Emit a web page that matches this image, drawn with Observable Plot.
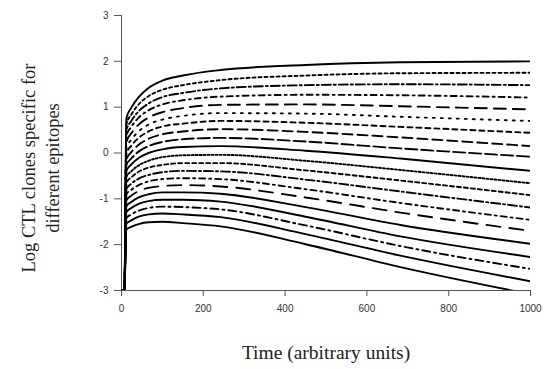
<!DOCTYPE html>
<html><head><meta charset="utf-8">
<script src="https://cdn.jsdelivr.net/npm/d3@7"></script>
<script src="https://cdn.jsdelivr.net/npm/@observablehq/plot@0.6"></script>
<style>
html,body{margin:0;padding:0;background:#fff;}
#chart{width:544px;height:369px;}
</style>
</head><body><div id="chart"></div>
<script>
// Time points (arbitrary units)
const times = [0, 7, 12, 24, 42, 66, 100, 150, 242, 450, 682, 1000];
// Log CTL clone values per epitope (top to bottom)
const epi1  = [-3, -3,  0.76,  0.99,  1.22,  1.42,  1.58,  1.69,  1.81,  1.92,  1.98,  2.00];
const epi2  = [-3, -3,  0.63,  0.84,  1.06,  1.24,  1.38,  1.48,  1.59,  1.69,  1.74,  1.75];
const epi3  = [-3, -3,  0.50,  0.70,  0.91,  1.08,  1.22,  1.31,  1.41,  1.48,  1.50,  1.48];
const epi4  = [-3, -3,  0.38,  0.57,  0.77,  0.93,  1.06,  1.15,  1.23,  1.27,  1.26,  1.21];
const epi5  = [-3, -3,  0.25,  0.43,  0.62,  0.77,  0.89,  0.98,  1.05,  1.06,  1.02,  0.95];
const epi6  = [-3, -3,  0.12,  0.29,  0.47,  0.62,  0.73,  0.81,  0.87,  0.86,  0.79,  0.70];
const epi7  = [-3, -3, -0.01,  0.16,  0.33,  0.47,  0.58,  0.64,  0.70,  0.66,  0.57,  0.44];
const epi8  = [-3, -3, -0.14,  0.02,  0.18,  0.31,  0.41,  0.47,  0.52,  0.46,  0.34,  0.15];
const epi9  = [-3, -3, -0.26, -0.12,  0.03,  0.15,  0.24,  0.30,  0.33,  0.25,  0.10, -0.08];
const epi10 = [-3, -3, -0.39, -0.25, -0.11,  0.00,  0.08,  0.13,  0.15,  0.05, -0.12, -0.39];
const epi11 = [-3, -3, -0.52, -0.40, -0.27, -0.17, -0.09, -0.05, -0.04, -0.17, -0.37, -0.66];
const epi12 = [-3, -3, -0.65, -0.53, -0.41, -0.32, -0.26, -0.22, -0.22, -0.38, -0.60, -0.92];
const epi13 = [-3, -3, -0.78, -0.67, -0.56, -0.48, -0.42, -0.39, -0.40, -0.58, -0.84, -1.19];
const epi14 = [-3, -3, -0.90, -0.80, -0.70, -0.62, -0.57, -0.55, -0.57, -0.79, -1.09, -1.46];
const epi15 = [-3, -3, -1.03, -0.93, -0.83, -0.76, -0.72, -0.70, -0.73, -0.97, -1.30, -1.70];
const epi16 = [-3, -3, -1.16, -1.07, -0.97, -0.90, -0.86, -0.86, -0.89, -1.18, -1.57, -1.98];
const epi17 = [-3, -3, -1.29, -1.20, -1.11, -1.05, -1.02, -1.02, -1.06, -1.39, -1.82, -2.27];
const epi18 = [-3, -3, -1.42, -1.34, -1.26, -1.20, -1.17, -1.18, -1.23, -1.58, -2.03, -2.53];
const epi19 = [-3, -3, -1.54, -1.47, -1.39, -1.34, -1.32, -1.34, -1.40, -1.77, -2.24, -2.80];
const epi20 = [-3, -3, -1.67, -1.61, -1.55, -1.51, -1.50, -1.53, -1.60, -1.99, -2.49, -3.08];
const series = [epi1, epi2, epi3, epi4, epi5, epi6, epi7, epi8, epi9, epi10,
                epi11, epi12, epi13, epi14, epi15, epi16, epi17, epi18, epi19, epi20];
const xTicks = [0, 200, 400, 600, 800, 1000];
const yTicks = [-3, -2, -1, 0, 1, 2, 3];
const xTitle = "Time (arbitrary units)";
const yTitle = "Log CTL clones specific for\ndifferent epitopes";

// line styles (dash patterns), top to bottom
const dashes = [
  null, "3,3", "9,3,2,3", "6,4,2,4", "12,7", "2,6", "5,4", "10,5", "12,4", null,
  "2,2", "4,3", "9,3,2,3", "6,4,2,4", "14,9", null, null, "8,4,2,4", null, null
];

const lineMarks = series.map((vals, i) => {
  const rows = times.map((t, j) => ({t, v: vals[j]}));
  return Plot.line(rows, {
    x: "t", y: "v", stroke: "black", strokeWidth: 1.9,
    strokeDasharray: dashes[i] || undefined, curve: "monotone-x", clip: true
  });
});

const chart = Plot.plot({
  width: 544, height: 369,
  marginLeft: 121, marginRight: 14, marginTop: 15, marginBottom: 79,
  style: {background: "#fff"},
  x: {domain: [0, 1000]},
  y: {domain: [-3, 3]},
  marks: [
    Plot.ruleX([0], {stroke: "#555", strokeWidth: 1}),
    Plot.ruleY([-3], {stroke: "#555", strokeWidth: 1}),
    Plot.axisX({ticks: xTicks, tickSize: 6, tickPadding: 8, tickFormat: d => String(d),
      label: null, stroke: "#555", fill: "#333", fontSize: 10, fontFamily: "Liberation Sans"}),
    Plot.axisY({ticks: yTicks, tickSize: 7, tickPadding: 6, tickFormat: d => String(d),
      label: null, stroke: "#555", fill: "#333", fontSize: 10, fontFamily: "Liberation Sans"}),
    ...lineMarks,
    Plot.text([xTitle], {frameAnchor: "bottom", dy: 68, text: d => d,
      fontFamily: "Liberation Serif", fontSize: 19.5, fill: "#222"}),
    Plot.text([yTitle], {frameAnchor: "left", dx: -82, dy: 15, text: d => d, rotate: -90,
      lineAnchor: "middle", textAnchor: "middle", lineHeight: 1.3,
      fontFamily: "Liberation Serif", fontSize: 18.5, fill: "#222"})
  ]
});
document.getElementById("chart").appendChild(chart);
</script>
</body></html>
